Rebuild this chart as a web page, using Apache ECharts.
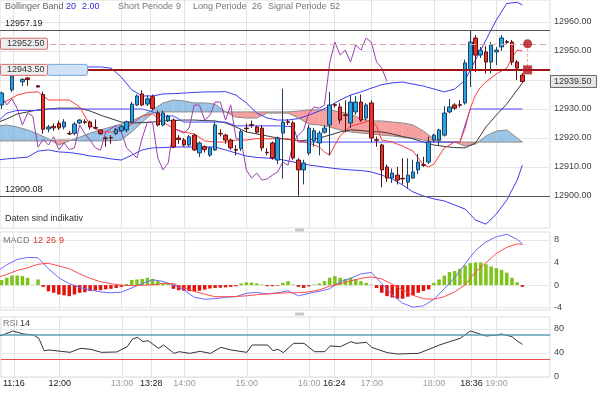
<!DOCTYPE html>
<html>
<head>
<meta charset="utf-8">
<script src="https://cdn.jsdelivr.net/npm/echarts@6.0.0/dist/echarts.min.js"></script>
<style>
html,body{margin:0;padding:0;background:#fff;overflow:hidden}
#chart{width:600px;height:393px}
</style>
</head>
<body>
<div id="chart"></div>
<script>
// ---------- time slots: slot k = 11:00 + 5k minutes ----------
const T0 = 660;
const STEP = 5;

// ---------- candles (slot 0..101) ----------
const opens = [null,12931.4,null,12936.6,null,12939.4,12940.7,null,12938,12935,
12923.1,12924,12925,12923.8,12921.6,12921.6,12925.2,12925.6,12925.5,12923.6,
12922.8,12920,12920.2,12921.5,12922.5,12922.8,12925.5,12931.4,12935.2,12931.7,
12934.2,12928.6,12924.5,12926,12926.2,12920,12919.3,12917.6,12921,12914.9,
12917,12914.1,12915.9,12921.6,12921,12919.3,12916,12916.4,12923.4,12924.6,
12923.8,12923.4,12915.1,12918.3,12912.4,12921.7,12925.6,12925.2,12912.4,12909,
12914.8,12919,12918.3,12922,12924.5,12931.5,12930.7,12928,12925.2,12929,
12932.4,12926.9,12932.1,12919.4,12917.6,12910,12906.2,12907.2,12906.1,12904.8,
12906.2,12909,12910.8,12911.7,12919.3,12919.3,12921,12929,12931.4,12931.5,
12932.1,12943.4,12954.5,12948.6,12949.7,12946.2,12949.7,12951.4,12953.2,12953.1,
12946.2,12941.7];
const closes = [null,12935.5,null,12941.4,null,12940.2,12940.2,null,12937.6,12923,
12923.8,12923.5,12923.5,12925.5,12921.4,12924.8,12926.2,12925.4,12923.8,12923.4,
12921.5,12919.8,12920,12923,12924,12925.6,12931.7,12934.5,12931.4,12933.5,
12930.2,12924.5,12928.6,12927.5,12916.9,12919.5,12917.6,12920.4,12915.9,12918.3,
12916,12916.6,12924.5,12921.4,12919.3,12916.6,12915.8,12922.2,12923.2,12924.4,
12922,12916.6,12914.9,12913.1,12920,12925.5,12925.4,12913.1,12909,12911.4,
12923.4,12922.5,12921.7,12923.4,12931.4,12931.3,12926.2,12927.8,12932.4,12932.4,
12926.2,12931.4,12920,12919.2,12909,12906.2,12907.9,12905.5,12905.9,12907.2,
12908.3,12911.7,12910.6,12918.6,12921,12922.8,12928.6,12930.7,12930.3,12931.3,
12945.9,12953.1,12948.6,12950.3,12946.2,12952.1,12950.3,12954.5,12953,12946.2,
12944.1,12939.5];
const lows = [null,12930,null,12935.8,null,12937.9,12938,null,12937.4,12921.5,
12922,12922.5,12922.8,12923,12921,12921,12924.8,12924.8,12923,12923,
12921,12917,12918,12921,12922,12922,12925,12931,12931,12931,
12929.5,12924,12924,12925.5,12916.5,12918,12917,12917,12915.5,12913.4,
12915,12913.5,12915.5,12920.5,12918,12916,12914,12915.5,12922,12923.5,
12921.5,12915.5,12914,12912.5,12911,12906,12924.5,12912.5,12900.08,12904,
12914,12917,12914,12921.5,12914,12930.5,12925,12922,12923.4,12928,
12925.5,12926,12918.5,12917,12903,12904.8,12904.5,12904,12904,12902.5,
12906,12907.5,12910,12911,12918.5,12917.5,12920.5,12928.5,12929.7,12930.5,
12931.5,12937.6,12942.7,12947.6,12942.3,12942.3,12945.2,12950,12952.4,12945.2,
12940,12939];
const highs = [null,12936,null,12943,null,12940.7,12941,null,12938.2,12936,
12924.5,12925,12926,12926.5,12922.5,12925.5,12926.5,12926.5,12926,12926.4,
12923,12920.5,12921,12923.5,12924.5,12926,12932.5,12935,12936.5,12934.8,
12935,12929.5,12929.5,12928,12926.8,12921,12920,12921,12921.5,12918.8,
12917.5,12917,12925.5,12923,12921.5,12919.8,12917.5,12923,12925,12926,
12924.2,12924.5,12916.5,12918.8,12920.5,12937,12926.5,12926,12913,12912.5,
12924.5,12923.5,12922.5,12924.5,12935.9,12932,12932,12933,12934.8,12934.5,
12935,12932,12933,12920.5,12918,12910.8,12909.5,12910,12913,12913,
12912.5,12914.5,12913.5,12920.5,12921.5,12923.2,12931,12933.5,12932,12933,
12947,12957.19,12955.5,12951.4,12951.7,12953.1,12951.4,12955.5,12953.8,12953.8,
12946.9,12942.4];

// ---------- overlay lines sampled at these slots ----------
const lineSlots = [0,2,4,6,8,10,12,14,16,18,20,22,24,26,28,30,32,34,36,38,40,42,44,46,48,50,
52,54,56,58,60,62,64,66,68,70,72,74,76,78,80,82,84,86,88,90,92,94,96,98,100,101];
const bbUpper = [12943.8,12943.8,12944.0,12944.1,12944.1,12944.3,12944.5,12944.5,12944.5,12944.5,12944.5,12944.1,
12941.0,12936.6,12934.5,12934.5,12935.2,12935.3,12935.5,12935.7,12935.9,12935.9,12936.0,12934.8,12932.1,12928.6,
12926.9,12926.2,12926.2,12926.7,12927.9,12929.3,12931.0,12933.1,12934.8,12935.9,12937.2,12938.4,12939.0,12939.3,
12938.6,12937.9,12936.9,12935.9,12936.9,12940.0,12946.9,12953.8,12960.7,12966.4,12966.8,12965.9];
const bbLower = [12912.4,12912.8,12913.1,12913.4,12915.5,12915.9,12915.2,12915.0,12914.5,12913.8,12913.4,12912.8,
12912.4,12914.1,12915.9,12916.6,12916.7,12916.9,12916.9,12916.9,12916.9,12916.9,12915.9,12914.8,12913.8,12913.3,
12913.1,12912.8,12912.1,12911.4,12910.7,12910.2,12909.7,12909.3,12909.0,12908.8,12908.3,12907.2,12905.9,12903.8,
12901.4,12900.0,12899.0,12898.3,12896.9,12895.5,12891.7,12890.3,12893.8,12898.6,12905.5,12910.7];
const bbMiddle = [12925.2,12926.6,12928.3,12929.0,12929.7,12930.0,12930.3,12930.3,12930.3,12929.3,12927.9,12926.7,
12925.5,12925.2,12925.3,12925.5,12925.9,12926.0,12926.2,12926.2,12926.0,12925.9,12925.2,12923.8,12922.1,12921.4,
12920.7,12920.0,12919.5,12919.0,12919.3,12920.0,12921.0,12922.1,12922.8,12922.6,12922.2,12922.1,12921.4,12920.5,
12919.7,12918.6,12917.6,12917.1,12916.7,12916.6,12918.3,12923.8,12927.9,12931.7,12936.6,12939.0];
const spanA = [12924.1,12924.5,12923.8,12922.8,12921.4,12919.7,12917.6,12919.0,12920.3,12921.7,12922.8,12923.8,
12924.8,12925.9,12927.6,12929.7,12932.1,12933.1,12932.8,12932.1,12932.1,12931.7,12929.0,12927.2,12926.9,12926.9,
12928.6,12928.6,12928.6,12926.9,12924.8,12924.5,12923.8,12922.8,12922.1,12921.7,12921.4,12921.0,12920.7,12920.3,
12920.0,12919.3,12918.6,12918.6,12918.6,12917.2,12917.9,12920.7,12922.4,12922.8,12920.0,12918.6];
const spanB = [12919.0,12919.0,12919.0,12919.0,12919.0,12919.0,12919.3,12919.3,12919.0,12919.0,12919.0,12919.0,
12919.3,12922.1,12925.5,12928.6,12929.0,12929.0,12929.0,12929.0,12929.0,12929.0,12929.0,12929.0,12929.0,12929.0,
12929.0,12929.0,12929.0,12929.3,12929.7,12929.7,12929.7,12929.0,12928.3,12926.6,12925.9,12925.9,12925.5,12925.2,
12924.5,12922.4,12919.7,12918.6,12918.6,12918.6,12918.6,12918.6,12918.6,12918.6,12918.6,12918.6];

const tenkanSlots = [0,2,4,6,8,9,10,12,14,16,18,20,22,24,26,28,30,32,34,36,38,40,42,44,46,48,50,
52,54,56,58,60,62,63,64,65,66,68,70,72,73,74,76,78,80,82,83,84,86,88,89,90,91,92,93,94,96,98,99,100,101];
const tenkan = [12931.0,12932.8,12934.8,12935.7,12935.9,12934.5,12933.1,12933.1,12933.1,12930.7,12924.5,12922.1,
12922.1,12922.4,12924.8,12927.6,12928.3,12925.5,12923.3,12922.1,12921.4,12919.0,12918.6,12918.6,12919.3,12919.3,
12919.8,12919.7,12919.7,12919.7,12919.0,12918.3,12916.9,12915.2,12914.1,12917.6,12920.7,12924.1,12925.0,12926.2,
12924.1,12919.3,12918.6,12917.2,12915.5,12910.7,12910.0,12911.0,12916.6,12918.6,12918.6,12923.4,12930.3,12934.8,
12937.6,12939.3,12942.1,12944.1,12947.6,12950.3,12950.0];

const kijunSlots = [0,2,4,8,10,28,30,32,34,36,44,46,54,56,57,58,89,90,91,101];
const kijun = [12925.2,12928.6,12929.5,12929.5,12930.0,12930.0,12929.0,12927.6,12927.6,12925.5,12925.5,12924.2,12924.2,12924.0,
12924.0,12918.6,12918.6,12924.5,12930.0,12930.0];

// chikou span (purple), slots 0..75
const chikou = [12931.7,12934.5,12931.4,12933.5,12930.2,12924.5,12928.6,12927.5,12916.9,12919.5,
12917.6,12920.4,12915.9,12918.3,12916,12916.6,12924.5,12921.4,12919.3,12916.6,
12915.8,12922.2,12923.2,12924.4,12922,12916.6,12914.9,12913.1,12920,12925.5,
12925.4,12913.1,12909,12911.4,12923.4,12922.5,12921.7,12923.4,12931.4,12931.3,
12926.2,12927.8,12932.4,12932.4,12926.2,12931.4,12920,12919.2,12909,12906.2,
12907.9,12905.5,12905.9,12907.2,12908.3,12911.7,12910.6,12918.6,12921,12922.8,
12928.6,12930.7,12930.3,12931.3,12945.9,12953.1,12948.6,12950.3,12946.2,12952.1,
12950.3,12954.5,12953,12946.2,12944.1,12939.5];

// ---------- reference levels ----------
const dayHigh = 12957.19;
const dayLow = 12900.08;
const orderLevel = 12952.50;
const stopLevel = 12943.50;
const lastPrice = 12939.50;
const markerSlot = 102;

// ---------- MACD ----------
const macdLine = [2.35,3.6,4.55,4.9,4.85,2.9,1.3,0.25,-0.4,-0.85,-1.2,-1.35,-1.25,-0.5,0.3,0.95,0.65,0.05,-0.85,
-2.15,-2.5,-2.4,-2.15,-2.05,-1.45,-1.3,-1.55,-1.35,-1.0,-1.9,-1.45,-1.1,-0.65,0.6,1.2,2.0,2.25,0.25,-1.7,-3.2,-3.9,
-3.65,-2.5,-0.65,1.3,3.75,6.15,7.65,8.55,9.0,8.1,7.3];
const signalLine = [1.3,1.9,2.6,3.05,3.7,3.85,3.4,2.9,2.0,1.2,0.6,0.25,0,-0.1,0,0.05,0.3,0.25,-0.5,-1.1,
-1.6,-2.05,-2.05,-2.0,-1.9,-1.7,-1.55,-1.45,-1.35,-1.35,-1.2,-0.85,-0.2,0.25,0.75,1.2,1.45,1.1,0.15,-0.85,
-1.8,-2.4,-2.5,-2.05,-1.2,0.05,2.35,3.95,5.6,6.7,7.3,7.2];
// histogram, slots 1..101
const histogram = [0.9,1.3,1.7,1.7,1.6,1.3,0.05,1.0,-0.3,-1.1,-1.35,-1.65,-1.8,-1.95,-1.65,-1.35,-1.25,-1.05,-0.95,-0.9,
-0.75,-0.65,-0.5,-0.3,0.2,0.9,1.0,1.1,1.3,1.1,0.7,0.4,0.2,-0.65,-0.9,-1.0,-1.05,-1.1,-1.0,-0.8,
-0.6,-0.5,-0.45,-0.4,-0.3,-0.2,0.3,0.5,0.45,0.3,0.1,-0.2,-0.2,-0.1,0.4,0.7,0.1,-0.3,-0.5,-0.2,
0.1,0.3,0.7,1.3,1.6,1.3,1.1,1.3,1.0,0.7,0.4,0.1,-0.5,-1.35,-1.95,-2.2,-2.4,-2.4,-2.05,-1.8,
-1.35,-1.05,-0.75,0.4,1.0,1.7,2.3,2.5,2.9,3.5,3.9,4.0,4.0,3.7,3.3,3.0,2.7,2.2,1.3,0.5,-0.3];

// ---------- RSI ----------
const rsiSlots = [0,1,3,5,7,8,9,10,14,16,18,20,23,25,26,27,28,29,31,32,34,35,37,39,41,43,45,48,49,52,53,54,55,57,
59,61,63,64,66,68,69,71,72,75,77,81,83,85,87,89,91,93,94,96,97,99,100,101];
const rsiValues = [69,70,76.7,71.7,70,64.4,43.9,45,41.1,47.8,46.1,41.1,41.7,50.6,63.3,66.1,58.9,60.6,47.8,53.3,
39.4,42.2,39.4,42.8,39.4,49.4,45,41.1,53.3,53.3,43.9,46.1,40.6,56.1,56.1,42.2,42.2,51.7,50.6,58.9,56.1,57.8,
49.4,40.6,38.3,39.4,46.1,53.3,58.9,64.4,76.7,71.1,68.3,70,71.7,67.2,60,54.4];
const rsiUpper = 70, rsiLower = 30;

// ---------- axes ticks ----------
const gridTimes = [676,720,780,808,840,900,960,984,1020,1080,1116,1140];
const strongTimes = [676,720,808,984,1116];
const priceTicks = [12900,12910,12920,12930,12940,12950,12960];
const priceLabels = [12900,12910,12920,12930,12950,12960];
const macdTicks = [-4,0,4,8];
const rsiTicks = [0,40,80];

// ---------- build ----------
const FONT = '"Liberation Sans", Arial, sans-serif';
const t = k => T0 + STEP * k;
const xMin = 663.5, xMax = 1191.5;

const candleData = [];
for (let k = 0; k < opens.length; k++) {
  if (opens[k] != null) candleData.push([t(k), opens[k], closes[k], lows[k], highs[k]]);
}
const pairs = (slots, vals) => slots.map((s, i) => [t(s), vals[i]]);
const cloudSegs = [];
for (let i = 0; i < lineSlots.length - 1; i++) {
  cloudSegs.push([t(lineSlots[i]), spanA[i], spanB[i], t(lineSlots[i+1]), spanA[i+1], spanB[i+1]]);
}
const histData = histogram.map((v, i) => ({
  value: [t(i + 1), v],
  itemStyle: {color: v >= 0 ? '#7cc41a' : '#e3120b'}
}));
const fmtTime = m => Math.floor(m / 60) + ':' + String(m % 60).padStart(2, '0');

const G = [
  {left: 0, right: 50, top: 0, height: 228},
  {left: 0, right: 50, top: 232, height: 78},
  {left: 0, right: 50, top: 317, height: 60}
];
const gridStyle = {show: true, borderColor: '#dcdcdc', borderWidth: 1, backgroundColor: 'transparent'};

function xAxis(i, labels) {
  return {
    type: 'value', gridIndex: i, min: xMin, max: xMax,
    axisLine: {show: false},
    axisTick: {show: false, customValues: gridTimes},
    splitLine: {show: true, lineStyle: {color: '#e3e3e3', width: 1}},
    axisLabel: labels ? {
      show: true, customValues: gridTimes, margin: 2, fontSize: 9, fontFamily: FONT,
      formatter: v => (strongTimes.includes(v) ? '{d|' : '{g|') + fmtTime(v) + '}',
      rich: {d: {color: '#222', fontSize: 9, fontFamily: FONT}, g: {color: '#9a9a9a', fontSize: 9, fontFamily: FONT}}
    } : {show: false}
  };
}
function yAxis(i, min, max, ticks, labels, fmt) {
  return {
    type: 'value', gridIndex: i, position: 'right', min: min, max: max,
    axisLine: {show: false},
    axisTick: {show: false, customValues: ticks},
    splitLine: {show: true, lineStyle: {color: '#e6e6e6'}},
    axisLabel: {customValues: labels, margin: 4, color: '#444', fontSize: 9, fontFamily: FONT, formatter: fmt}
  };
}
const lineS = (xi, data, color, width, extra) => Object.assign({
  type: 'line', xAxisIndex: xi, yAxisIndex: xi, data: data, showSymbol: false, symbol: 'none',
  lineStyle: {color: color, width: width || 1}, silent: true, animation: false, z: 3
}, extra || {});

const option = {
  animation: false,
  backgroundColor: '#fff',
  grid: G.map(g => Object.assign({}, g, gridStyle)),
  xAxis: [xAxis(0, false), xAxis(1, false), xAxis(2, true)],
  yAxis: [
    yAxis(0, 12888.97, 12967.59, priceTicks, priceLabels, v => v.toFixed(2)),
    yAxis(1, -4.4, 9.4, macdTicks, macdTicks, v => String(v)),
    yAxis(2, 0, 100, rsiTicks, rsiTicks, v => String(v))
  ],
  series: [
    {
      type: 'custom', xAxisIndex: 0, yAxisIndex: 0, data: cloudSegs, clip: true, silent: true, z: 1,
      encode: {x: [0, 3], y: [1, 2, 4, 5]},
      renderItem: function (params, api) {
        const t0 = api.value(0), a0 = api.value(1), b0 = api.value(2);
        const t1 = api.value(3), a1 = api.value(4), b1 = api.value(5);
        const blue = 'rgba(120,178,222,0.75)', pink = 'rgba(244,120,120,0.7)';
        const d0 = a0 - b0, d1 = a1 - b1;
        const ch = [];
        if (d0 * d1 >= 0) {
          ch.push({type: 'polygon', shape: {points: [api.coord([t0, a0]), api.coord([t1, a1]), api.coord([t1, b1]), api.coord([t0, b0])]},
            style: {fill: (d0 + d1) >= 0 ? blue : pink}});
        } else {
          const f = d0 / (d0 - d1);
          const tc = t0 + f * (t1 - t0), vc = a0 + f * (a1 - a0);
          const pc = api.coord([tc, vc]);
          ch.push({type: 'polygon', shape: {points: [api.coord([t0, a0]), pc, api.coord([t0, b0])]}, style: {fill: d0 > 0 ? blue : pink}});
          ch.push({type: 'polygon', shape: {points: [pc, api.coord([t1, a1]), api.coord([t1, b1])]}, style: {fill: d1 > 0 ? blue : pink}});
        }
        return {type: 'group', children: ch};
      }
    },
    lineS(0, pairs(lineSlots, spanA), '#8a8a8a', 1, {z: 2}),
    lineS(0, pairs(lineSlots, spanB), '#8a8a8a', 1, {z: 2}),
    lineS(0, pairs(lineSlots, bbUpper), '#3b3bf2', 1),
    lineS(0, pairs(lineSlots, bbLower), '#3b3bf2', 1),
    lineS(0, pairs(lineSlots, bbMiddle), '#3a3a3a', 1),
    lineS(0, pairs(kijunSlots, kijun), '#4848ff', 1),
    lineS(0, pairs(tenkanSlots, tenkan), '#ff3b3b', 1),
    lineS(0, chikou.map((v, k) => [t(k), v]), '#9c3fb0', 1),
    {
      type: 'candlestick', xAxisIndex: 0, yAxisIndex: 0, z: 4, silent: true,
      dimensions: ['time', 'open', 'close', 'lowest', 'highest'],
      encode: {x: 0, y: [1, 2, 3, 4]},
      data: candleData, barWidth: 4,
      itemStyle: {color: '#26a3e4', color0: '#e5322a', borderColor: '#1c3f66', borderColor0: '#5c1010', borderWidth: 1},
      markLine: {
        silent: true, symbol: 'none', animation: false, label: {show: false},
        data: [
          {yAxis: dayHigh, lineStyle: {color: '#555', width: 1, type: 'solid'}},
          {yAxis: orderLevel, lineStyle: {color: '#dca5a5', width: 1, type: [6, 4]}},
          {yAxis: stopLevel, lineStyle: {color: '#a01414', width: 2, type: 'solid'}},
          {yAxis: dayLow, lineStyle: {color: '#555', width: 1, type: 'solid'}}
        ]
      }
    },
    lineS(0, [[t(markerSlot), orderLevel], [t(markerSlot), stopLevel]], '#e8a0a0', 1, {lineStyle: {color: '#e8a0a0', width: 1, type: [3, 2]}, z: 5}),
    {
      type: 'scatter', xAxisIndex: 0, yAxisIndex: 0, z: 6, silent: true,
      data: [{value: [t(markerSlot), orderLevel], symbol: 'circle', symbolSize: 9},
             {value: [t(markerSlot), stopLevel], symbol: 'rect', symbolSize: 9}],
      itemStyle: {color: '#b3121a'}
    },
    {
      type: 'bar', xAxisIndex: 1, yAxisIndex: 1, data: histData, barWidth: 3.5, silent: true, z: 2
    },
    lineS(1, pairs(lineSlots, macdLine), '#6a6aff', 1),
    lineS(1, pairs(lineSlots, signalLine), '#ff4a4a', 1),
    lineS(2, pairs(rsiSlots, rsiValues), '#333', 1, {
      markLine: {
        silent: true, symbol: 'none', animation: false, label: {show: false},
        data: [
          {yAxis: rsiUpper, lineStyle: {color: '#5d9fbd', width: 1.5, type: 'solid'}},
          {yAxis: rsiLower, lineStyle: {color: '#e85050', width: 1, type: 'solid'}}
        ]
      }
    })
  ]
};

const chart = echarts.init(document.getElementById('chart'), null, {renderer: 'canvas', width: 600, height: 393});
chart.setOption(option);

// ---------- overlay labels pinned to price levels ----------
const py = v => chart.convertToPixel({yAxisIndex: 0}, v);
const txt = (x, y, text, fill, extra) => ({
  type: 'text', x: x, y: y, z: 100,
  style: Object.assign({text: text, fill: fill, font: '9px ' + FONT, verticalAlign: 'middle', align: 'left'}, extra || {})
});
const box = (x, y, w, h, fill, stroke, r) => ({
  type: 'rect', z: 99, shape: {x: x, y: y, width: w, height: h, r: r || 0},
  style: {fill: fill, stroke: stroke, lineWidth: 1}
});
const yOrder = py(orderLevel), yStop = py(stopLevel), yLast = py(lastPrice);
const graphics = [
  // header
  txt(5, 7, 'Bollinger Band', '#666'),
  txt(66, 7, '20', '#2b2bd9'),
  txt(82, 7, '2.00', '#2b2bd9'),
  txt(118, 7, 'Short Periode', '#777'),
  txt(176, 7, '9', '#777'),
  txt(193, 7, 'Long Periode', '#777'),
  txt(252, 7, '26', '#777'),
  txt(268, 7, 'Signal Periode', '#777'),
  txt(330, 7, '52', '#777'),
  // level captions
  txt(5, py(dayHigh) - 7, dayHigh.toFixed(2), '#222'),
  txt(5, py(dayLow) - 6, dayLow.toFixed(2), '#222'),
  box(0.5, yOrder - 5.5, 47, 11, '#eeeeee', '#d46a6a', 1),
  txt(7, yOrder, orderLevel.toFixed(2), '#333'),
  box(47.5, yStop - 5.5, 40, 11, '#cfe2f7', '#78a6d8', 2),
  box(0.5, yStop - 5.5, 47, 11, '#eeeeee', '#d46a6a', 1),
  txt(7, yStop, stopLevel.toFixed(2), '#333'),
  box(550.5, yLast - 6, 46, 12, '#e6e6e6', '#666', 0),
  txt(554, yLast, lastPrice.toFixed(2), '#333'),
  // footer + panel captions
  txt(5, 219, 'Daten sind indikativ', '#333'),
  txt(3, 241, 'MACD', '#777'),
  txt(33, 241, '12', '#e0302a'),
  txt(46, 241, '26', '#e0302a'),
  txt(59, 241, '9', '#e0302a'),
  txt(3, 324, 'RSI', '#777'),
  txt(20, 324, '14', '#333'),
  // panel handles
  {type: 'rect', z: 99, shape: {x: 295, y: 228.5, width: 9, height: 3, r: 1}, style: {fill: '#c8c8c8'}},
  {type: 'rect', z: 99, shape: {x: 295, y: 312.5, width: 9, height: 3, r: 1}, style: {fill: '#c8c8c8'}}
];
chart.setOption({graphic: graphics});
</script>
</body>
</html>
